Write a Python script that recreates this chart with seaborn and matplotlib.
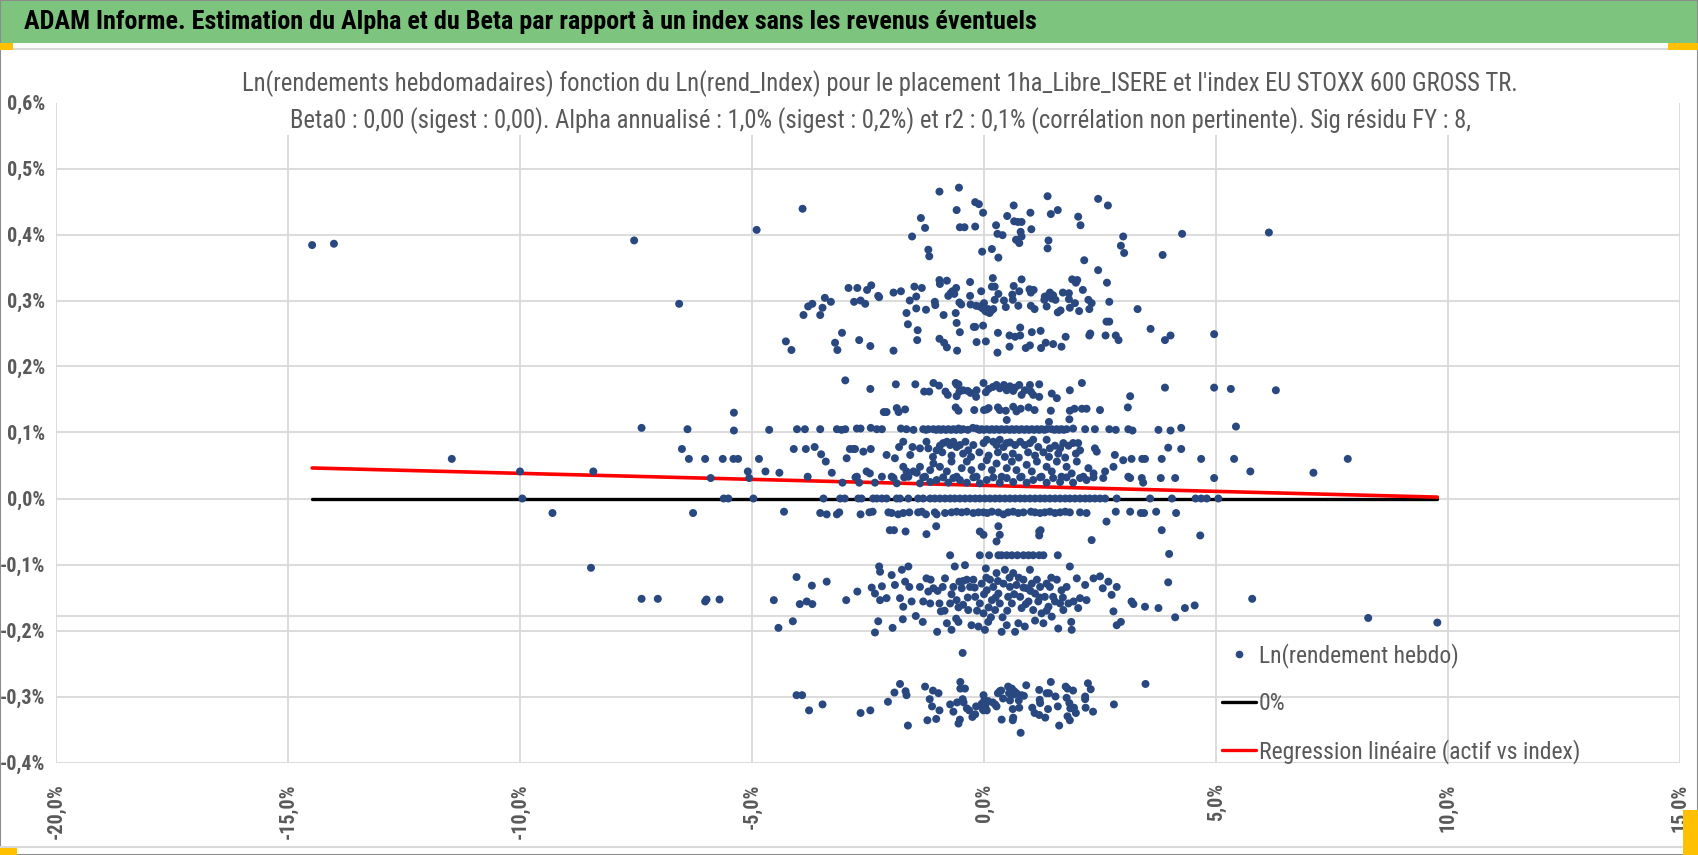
import matplotlib
matplotlib.use("Agg")
import matplotlib.pyplot as plt
import seaborn as sns
import pandas as pd
from matplotlib import font_manager
from matplotlib.lines import Line2D
from matplotlib.patches import Rectangle
from matplotlib.ticker import FuncFormatter, MultipleLocator

# weekly log returns (in %): x = index, y = fund
pts_top = [
    (-14.48, 0.384), (-14.01, 0.386), (-7.54, 0.391), (-4.90, 0.407), (-3.91, 0.439),
    (4.27, 0.401), (6.14, 0.403), (3.85, 0.369), (-1.36, 0.425), (-1.55, 0.397),
    (-1.27, 0.410), (-1.20, 0.377), (-1.18, 0.367), (-0.96, 0.465), (-0.59, 0.437),
    (-0.54, 0.471), (-0.52, 0.411), (-0.42, 0.411), (-0.19, 0.449), (-0.11, 0.446),
    (-0.19, 0.412), (-0.02, 0.433), (-0.04, 0.374), (0.17, 0.378), (0.26, 0.414),
    (0.29, 0.401), (0.40, 0.399), (0.31, 0.365), (0.50, 0.428), (0.64, 0.444),
    (0.65, 0.420), (0.73, 0.419), (0.81, 0.419), (0.69, 0.392), (0.76, 0.387),
    (0.81, 0.397), (0.79, 0.404), (1.00, 0.433), (1.02, 0.408), (1.37, 0.458),
    (1.44, 0.431), (1.39, 0.391), (1.37, 0.379), (1.59, 0.437), (2.03, 0.427),
    (2.08, 0.414), (2.16, 0.361), (2.46, 0.454), (2.67, 0.444), (2.95, 0.383),
    (3.00, 0.397), (3.02, 0.372),
]

pts_upper = [
    (-6.57, 0.295), (3.31, 0.287), (3.59, 0.257), (3.90, 0.240), (4.02, 0.247), (4.96, 0.249),
    (-3.89, 0.278), (-3.79, 0.291), (-3.70, 0.295), (-3.53, 0.278), (-3.48, 0.289),
    (-3.43, 0.304), (-3.30, 0.298), (-3.06, 0.251), (-2.92, 0.319), (-2.73, 0.319),
    (-2.80, 0.298), (-2.66, 0.300), (-2.56, 0.295), (-2.52, 0.316), (-2.43, 0.323),
    (-2.28, 0.307), (-2.26, 0.305), (-1.95, 0.312), (-1.79, 0.314), (-1.67, 0.281),
    (-1.64, 0.264), (-1.60, 0.300), (-1.50, 0.321), (-1.46, 0.306), (-1.46, 0.288),
    (-1.43, 0.255), (-1.34, 0.319), (-1.25, 0.286), (-1.06, 0.298), (-1.05, 0.293),
    (-0.96, 0.331), (-0.95, 0.325), (-0.87, 0.278), (-0.80, 0.330), (-0.77, 0.307),
    (-0.72, 0.311), (-0.68, 0.314), (-0.64, 0.310), (-0.60, 0.319), (-0.61, 0.281),
    (-0.59, 0.266), (-0.52, 0.252), (-0.53, 0.297), (-0.49, 0.294), (-0.30, 0.328),
    (-0.30, 0.307), (-0.29, 0.294), (-0.22, 0.260), (-0.19, 0.260), (-0.17, 0.292),
    (-0.10, 0.291), (-0.06, 0.314), (-0.03, 0.288), (0.00, 0.296), (0.03, 0.284),
    (0.06, 0.283), (0.09, 0.287), (0.12, 0.281), (0.16, 0.285), (0.20, 0.287),
    (0.23, 0.301), (0.17, 0.321), (0.23, 0.321), (0.19, 0.334), (-0.02, 0.262),
    (0.31, 0.310), (0.30, 0.251), (0.43, 0.300), (0.47, 0.290), (0.55, 0.247),
    (0.67, 0.245), (0.61, 0.309), (0.62, 0.301), (0.64, 0.322), (0.74, 0.292),
    (0.76, 0.314), (0.78, 0.259), (0.78, 0.247), (0.81, 0.332), (0.98, 0.317),
    (1.02, 0.316), (1.07, 0.316), (1.01, 0.312), (1.01, 0.292), (1.09, 0.287),
    (1.03, 0.252), (1.22, 0.254), (1.31, 0.306), (1.39, 0.308), (1.42, 0.312),
    (1.49, 0.308), (1.46, 0.303), (1.54, 0.301), (1.30, 0.301), (1.35, 0.291),
    (1.59, 0.282), (1.65, 0.285), (1.70, 0.312), (1.76, 0.245), (1.83, 0.311),
    (1.83, 0.302), (1.85, 0.289), (1.90, 0.332), (1.98, 0.327), (2.01, 0.331),
    (1.96, 0.296), (2.05, 0.284), (2.13, 0.316), (2.25, 0.301), (2.27, 0.287),
    (2.32, 0.296), (2.27, 0.247), (2.29, 0.250), (2.46, 0.346), (2.65, 0.327),
    (2.70, 0.298), (2.64, 0.268), (2.70, 0.268), (2.62, 0.247), (2.84, 0.247),
    (-4.27, 0.238), (-4.15, 0.225), (-3.21, 0.236), (-3.16, 0.225), (-2.69, 0.240),
    (-2.45, 0.231), (-1.95, 0.224), (-1.44, 0.240), (-0.96, 0.242), (-0.86, 0.236),
    (-0.80, 0.229), (-0.58, 0.224), (-0.16, 0.237), (0.04, 0.238), (0.29, 0.221),
    (0.55, 0.230), (0.90, 0.228), (0.99, 0.232), (1.23, 0.228), (1.33, 0.236),
    (1.49, 0.234), (1.67, 0.230), (2.90, 0.240),
]

pts_band15 = [
    (-5.39, 0.130), (3.90, 0.168), (4.96, 0.168), (5.32, 0.166), (6.29, 0.164), (3.15, 0.155),
    (-2.99, 0.179), (-2.45, 0.166), (-1.90, 0.173), (-1.48, 0.173), (-1.29, 0.162),
    (-1.18, 0.162), (-1.09, 0.175), (-0.97, 0.171), (-0.83, 0.162), (-0.78, 0.157),
    (-0.58, 0.172), (-0.61, 0.175), (-0.55, 0.173), (-0.59, 0.155), (-0.53, 0.162),
    (-0.45, 0.164), (-0.35, 0.163), (-0.29, 0.160), (-0.17, 0.154), (-0.16, 0.164),
    (-0.01, 0.175), (0.04, 0.161), (0.10, 0.166), (0.19, 0.169), (0.27, 0.172),
    (0.34, 0.167), (0.43, 0.172), (0.49, 0.164), (0.56, 0.170), (0.63, 0.163),
    (0.67, 0.168), (0.76, 0.172), (0.81, 0.157), (0.88, 0.164), (0.99, 0.172),
    (1.01, 0.162), (1.06, 0.157), (1.19, 0.173), (1.19, 0.154), (1.46, 0.159),
    (1.57, 0.152), (1.85, 0.164), (2.11, 0.175),
    (-2.16, 0.131), (-2.10, 0.131), (-1.88, 0.137), (-1.84, 0.131), (-1.70, 0.135),
    (-0.61, 0.138), (-0.55, 0.133), (-0.21, 0.134), (0.00, 0.134), (0.06, 0.135),
    (0.10, 0.137), (0.30, 0.138), (0.34, 0.134), (0.47, 0.133), (0.63, 0.139),
    (0.70, 0.132), (0.79, 0.136), (0.96, 0.138), (1.09, 0.134), (1.44, 0.133),
    (1.85, 0.133), (1.95, 0.136), (2.11, 0.136), (2.21, 0.136), (2.50, 0.134), (3.10, 0.138),
]

pts_band10 = [
    (-7.38, 0.107), (-6.39, 0.105), (-5.39, 0.103), (3.20, 0.103), (3.76, 0.104),
    (4.02, 0.103), (4.25, 0.107), (5.43, 0.109),
    (-4.63, 0.104), (-4.03, 0.105), (-3.86, 0.105), (-3.53, 0.105), (-3.17, 0.105),
    (-3.07, 0.104), (-2.99, 0.105), (-2.74, 0.106), (-2.66, 0.106), (-2.44, 0.107),
    (-2.31, 0.105), (-2.20, 0.105), (-1.79, 0.106), (-1.67, 0.105), (-1.52, 0.104),
    (-1.31, 0.105), (-1.20, 0.105), (-1.09, 0.105), (-0.98, 0.105), (-0.88, 0.105),
    (-0.77, 0.105), (-0.66, 0.105), (-0.55, 0.106), (-0.45, 0.105), (-0.24, 0.107),
    (-0.16, 0.106), (-0.05, 0.105), (0.06, 0.105), (0.17, 0.105), (0.27, 0.105),
    (0.38, 0.105), (0.49, 0.119), (0.49, 0.105), (0.60, 0.105), (0.70, 0.105),
    (0.81, 0.105), (0.92, 0.105), (1.03, 0.105), (1.14, 0.105), (1.24, 0.105),
    (1.35, 0.105), (1.40, 0.116), (1.46, 0.105), (1.57, 0.105), (1.67, 0.105),
    (1.78, 0.105), (1.84, 0.120), (1.92, 0.106), (2.18, 0.105), (2.39, 0.105),
    (2.70, 0.105), (2.84, 0.104), (3.11, 0.105),
    (-1.25, 0.104), (-1.03, 0.104), (-0.93, 0.104), (-0.82, 0.104), (-0.71, 0.104),
    (-0.60, 0.104), (-0.50, 0.104), (-0.35, 0.104), (-0.10, 0.104), (0.00, 0.104),
    (0.12, 0.104), (0.22, 0.104), (0.33, 0.104), (0.44, 0.104), (0.55, 0.104),
    (0.65, 0.104), (0.76, 0.104), (0.87, 0.104), (0.97, 0.104), (1.08, 0.104),
    (1.19, 0.104), (1.30, 0.104), (1.52, 0.104), (1.62, 0.104), (1.72, 0.104),
]

pts_band07 = [
    (-6.51, 0.075), (-11.47, 0.060), (-6.36, 0.060), (-6.01, 0.060), (-5.63, 0.060),
    (-5.40, 0.060), (-5.30, 0.060), (-4.85, 0.060), (3.97, 0.077), (4.25, 0.075),
    (3.18, 0.060), (3.41, 0.060), (3.47, 0.060), (3.83, 0.060), (4.68, 0.060),
    (5.39, 0.060), (7.84, 0.060),
    (-4.10, 0.075), (-3.84, 0.075), (-3.65, 0.078), (-3.51, 0.067), (-3.41, 0.056),
    (-2.96, 0.061), (-2.89, 0.075), (-2.82, 0.075), (-2.78, 0.075), (-2.60, 0.071),
    (-2.44, 0.075), (-2.10, 0.066), (-1.92, 0.061), (-1.83, 0.078), (-1.74, 0.086),
    (-1.59, 0.066), (-1.54, 0.078), (-1.38, 0.076), (-1.24, 0.086), (-1.20, 0.076),
    (-1.02, 0.073), (-0.95, 0.080), (-0.88, 0.084), (-0.80, 0.086), (-0.73, 0.081),
    (-0.66, 0.086), (-0.59, 0.078), (-0.52, 0.081), (-0.40, 0.086), (-0.34, 0.073),
    (-0.23, 0.081), (-0.01, 0.084), (0.06, 0.089), (0.20, 0.086), (0.27, 0.081),
    (0.34, 0.089), (0.42, 0.078), (0.49, 0.084), (0.56, 0.085), (0.67, 0.081),
    (0.78, 0.086), (0.88, 0.081), (0.99, 0.084), (1.06, 0.089), (1.17, 0.078),
    (1.35, 0.089), (1.42, 0.076), (1.53, 0.080), (1.64, 0.076), (1.71, 0.084),
    (1.82, 0.080), (1.92, 0.084), (2.03, 0.084), (2.07, 0.073), (2.39, 0.076),
    (2.43, 0.071), (2.82, 0.066), (3.00, 0.058),
    (-1.10, 0.063), (-0.90, 0.070), (-0.70, 0.065), (-0.45, 0.068), (-0.28, 0.063),
    (-0.10, 0.070), (0.10, 0.065), (0.30, 0.070), (0.45, 0.063), (0.62, 0.068),
    (0.75, 0.062), (0.95, 0.070), (1.10, 0.065), (1.28, 0.070), (1.40, 0.063),
    (1.60, 0.068), (1.75, 0.062), (1.98, 0.068),
]

pts_band04 = [
    (-10.00, 0.041), (-8.42, 0.041), (-5.09, 0.041), (-5.89, 0.031), (-5.06, 0.031),
    (5.74, 0.041), (7.10, 0.039), (3.15, 0.031), (3.81, 0.031), (4.12, 0.031),
    (4.96, 0.031), (3.43, 0.024), (-4.71, 0.041), (-4.41, 0.039), (-3.80, 0.033),
    (-3.28, 0.039),
    (-2.74, 0.033), (-2.53, 0.041), (-2.46, 0.038), (-2.20, 0.033), (-1.99, 0.033),
    (-1.74, 0.048), (-1.63, 0.033), (-1.52, 0.041), (-1.38, 0.048), (-1.27, 0.033),
    (-1.16, 0.043), (-1.09, 0.053), (-0.95, 0.048), (-0.80, 0.041), (-0.70, 0.056),
    (-0.59, 0.033), (-0.48, 0.046), (-0.37, 0.056), (-0.27, 0.043), (-0.16, 0.033),
    (-0.05, 0.048), (0.06, 0.058), (0.17, 0.043), (0.27, 0.053), (0.38, 0.033),
    (0.49, 0.046), (0.60, 0.056), (0.70, 0.043), (0.81, 0.033), (0.92, 0.051),
    (1.03, 0.041), (1.14, 0.056), (1.24, 0.033), (1.35, 0.048), (1.46, 0.041),
    (1.57, 0.056), (1.67, 0.033), (1.78, 0.048), (1.89, 0.038), (2.00, 0.056),
    (2.14, 0.033), (2.25, 0.046), (2.36, 0.038), (2.61, 0.041), (2.79, 0.048),
    (3.11, 0.033), (3.40, 0.031),
    (-3.05, 0.024), (-2.77, 0.032), (-2.69, 0.024), (-2.35, 0.024), (-1.95, 0.031),
    (-1.88, 0.023), (-1.72, 0.032), (-1.67, 0.041), (-1.45, 0.039), (-1.38, 0.023),
    (-1.31, 0.032), (-1.16, 0.025), (-1.02, 0.028), (-0.88, 0.032), (-0.77, 0.024),
    (-0.66, 0.031), (-0.52, 0.028), (-0.37, 0.024), (-0.23, 0.032), (-0.09, 0.023),
    (0.06, 0.028), (0.20, 0.032), (0.34, 0.024), (0.49, 0.031), (0.63, 0.025),
    (0.78, 0.032), (0.92, 0.024), (1.06, 0.028), (1.21, 0.032), (1.35, 0.024),
    (1.49, 0.031), (1.64, 0.025), (1.78, 0.032), (1.92, 0.024), (2.07, 0.031),
    (2.21, 0.028), (2.36, 0.032), (2.57, 0.031),
]

pts_zero = [
    (-9.95, 0.0), (-5.61, 0.0), (-5.51, 0.0), (-4.97, 0.0), (3.58, 0.0), (4.05, 0.0),
    (4.56, 0.0), (4.68, 0.0), (4.80, 0.0), (5.05, 0.0),
    (-3.46, 0.0), (-3.10, 0.0), (-3.00, 0.0), (-2.71, 0.0), (-2.64, 0.0), (-2.39, 0.0),
    (-2.31, 0.0), (-2.20, 0.0), (-2.10, 0.0), (-1.88, 0.0), (-1.81, 0.0), (-1.63, 0.0),
    (-1.42, 0.0), (-1.31, 0.0), (-1.16, 0.0), (-1.06, 0.0), (-0.95, 0.0), (-0.84, 0.0),
    (-0.73, 0.0), (-0.63, 0.0), (-0.52, 0.0), (-0.41, 0.0), (-0.30, 0.0), (-0.19, 0.0),
    (-0.09, 0.0), (0.02, 0.0), (0.13, 0.0), (0.24, 0.0), (0.34, 0.0), (0.45, 0.0),
    (0.56, 0.0), (0.67, 0.0), (0.78, 0.0), (0.88, 0.0), (0.99, 0.0), (1.10, 0.0),
    (1.21, 0.0), (1.31, 0.0), (1.42, 0.0), (1.53, 0.0), (1.64, 0.0), (1.75, 0.0),
    (1.85, 0.0), (1.96, 0.0), (2.07, 0.0), (2.18, 0.0), (2.28, 0.0), (2.39, 0.0),
    (2.50, 0.0), (2.61, 0.0), (2.86, 0.0),
]

pts_neg02 = [
    (-9.30, -0.022), (-6.27, -0.022), (3.15, -0.020), (3.38, -0.022), (3.45, -0.022),
    (3.71, -0.020), (4.14, -0.022),
    (-4.31, -0.020), (-3.53, -0.022), (-3.39, -0.024), (-3.17, -0.024), (-3.12, -0.021),
    (-2.66, -0.024), (-2.47, -0.021), (-2.40, -0.020), (-2.06, -0.021), (-1.99, -0.022),
    (-1.85, -0.024), (-1.74, -0.022), (-1.61, -0.021), (-1.42, -0.021), (-1.34, -0.020),
    (-1.25, -0.024), (-1.06, -0.021), (-1.02, -0.024), (-0.84, -0.022), (-0.70, -0.021),
    (-0.59, -0.020), (-0.48, -0.021), (-0.37, -0.020), (-0.23, -0.022), (-0.12, -0.021),
    (-0.01, -0.021), (0.07, -0.022), (0.17, -0.020), (0.31, -0.021), (0.42, -0.024),
    (0.52, -0.021), (0.63, -0.020), (0.74, -0.022), (0.85, -0.021), (1.01, -0.020),
    (1.10, -0.021), (1.21, -0.022), (1.31, -0.021), (1.42, -0.020), (1.53, -0.022),
    (1.64, -0.021), (1.75, -0.020), (1.85, -0.021), (2.07, -0.021), (2.21, -0.022),
    (2.84, -0.020),
]

pts_neg05 = [
    (3.83, -0.048), (4.66, -0.056), (3.99, -0.084),
    (-2.03, -0.048), (-1.94, -0.048), (-1.69, -0.050), (-1.24, -0.054), (-1.03, -0.042),
    (-0.09, -0.050), (-0.01, -0.055), (0.31, -0.042), (0.34, -0.055), (0.27, -0.065),
    (1.19, -0.050), (1.22, -0.048), (1.19, -0.056), (2.32, -0.063), (2.64, -0.035),
    (-0.73, -0.086), (-0.09, -0.086), (0.11, -0.086), (0.31, -0.086), (0.38, -0.086),
    (0.49, -0.086), (0.60, -0.086), (0.72, -0.086), (0.85, -0.086), (0.96, -0.086),
    (1.06, -0.086), (1.19, -0.086), (1.28, -0.086), (1.59, -0.086),
]

pts_neg15 = [
    (-8.47, -0.105), (-7.38, -0.152), (-7.03, -0.152), (-6.01, -0.156), (-5.98, -0.153),
    (-5.70, -0.153), (3.97, -0.127), (3.18, -0.156), (3.22, -0.160), (3.47, -0.164),
    (3.76, -0.166), (4.12, -0.180), (4.33, -0.166), (4.54, -0.162), (5.78, -0.152),
    (8.28, -0.181), (9.77, -0.188),
    (-4.53, -0.154), (-4.43, -0.196), (-4.12, -0.186), (-4.04, -0.119), (-3.97, -0.160),
    (-3.82, -0.156), (-3.70, -0.160), (-3.71, -0.132), (-3.39, -0.126), (-2.97, -0.154),
    (-2.73, -0.141), (-2.42, -0.135), (-2.35, -0.144), (-2.28, -0.186), (-2.35, -0.203),
    (-2.26, -0.103), (-2.24, -0.111), (-2.20, -0.133), (-2.10, -0.151), (-2.24, -0.154),
    (-1.99, -0.116), (-1.97, -0.196), (-1.92, -0.131), (-1.81, -0.151), (-1.77, -0.108),
    (-1.74, -0.164), (-1.75, -0.183), (-1.70, -0.126), (-1.63, -0.103), (-1.61, -0.134),
    (-1.56, -0.156), (-1.47, -0.178), (-1.38, -0.134), (-1.32, -0.187), (-1.31, -0.156),
    (-1.24, -0.121), (-1.20, -0.141), (-1.16, -0.159), (-1.15, -0.123), (-1.09, -0.136),
    (-1.01, -0.202), (-0.96, -0.159), (-0.93, -0.171), (-0.89, -0.134), (-0.84, -0.121),
    (-0.80, -0.189), (-0.73, -0.159), (-0.70, -0.199), (-0.66, -0.134), (-0.63, -0.103),
    (-0.60, -0.182), (-0.59, -0.154), (-0.55, -0.187), (-0.53, -0.126), (-0.48, -0.136),
    (-0.45, -0.161), (-0.41, -0.101), (-0.37, -0.123), (-0.34, -0.169), (-0.30, -0.134),
    (-0.27, -0.192), (-0.23, -0.123), (-0.19, -0.149), (-0.12, -0.194), (-0.09, -0.159),
    (-0.05, -0.129), (-0.01, -0.174), (0.02, -0.199), (0.04, -0.106), (0.06, -0.139),
    (0.09, -0.187), (0.13, -0.123), (0.17, -0.154), (0.20, -0.134), (0.24, -0.169),
    (0.27, -0.113), (0.31, -0.144), (0.34, -0.159), (0.38, -0.202), (0.42, -0.129),
    (0.45, -0.108), (0.49, -0.192), (0.52, -0.149), (0.56, -0.134), (0.60, -0.159),
    (0.63, -0.113), (0.67, -0.202), (0.70, -0.131), (0.74, -0.189), (0.78, -0.149),
    (0.81, -0.166), (0.85, -0.123), (0.88, -0.194), (0.92, -0.136), (0.96, -0.156),
    (0.99, -0.108), (1.03, -0.129), (1.06, -0.169), (1.10, -0.144), (1.14, -0.123),
    (1.17, -0.156), (1.21, -0.134), (1.24, -0.174), (1.28, -0.189), (1.31, -0.149),
    (1.35, -0.129), (1.39, -0.164), (1.42, -0.134), (1.46, -0.179), (1.49, -0.149),
    (1.53, -0.156), (1.57, -0.123), (1.60, -0.197), (1.64, -0.159), (1.67, -0.139),
    (1.71, -0.169), (1.78, -0.134), (1.82, -0.159), (1.85, -0.103), (1.88, -0.187),
    (1.89, -0.199), (1.93, -0.156), (2.00, -0.121), (2.03, -0.166), (2.07, -0.151),
    (2.18, -0.131), (2.21, -0.154), (2.36, -0.121), (2.50, -0.118), (2.56, -0.136),
    (2.68, -0.126), (2.75, -0.146), (2.79, -0.171), (2.86, -0.134), (2.86, -0.192),
    (2.95, -0.187),
    (-0.45, -0.125), (-0.20, -0.135), (0.00, -0.145), (0.10, -0.165), (0.30, -0.125),
    (0.50, -0.170), (0.65, -0.145), (0.90, -0.160), (1.00, -0.140), (1.20, -0.150),
    (1.35, -0.170), (0.40, -0.180), (0.15, -0.180), (0.75, -0.120), (1.10, -0.185),
    (-0.15, -0.170), (-0.35, -0.150), (-0.70, -0.145), (-1.00, -0.140), (0.55, -0.120),
    (0.85, -0.135), (1.45, -0.120), (1.70, -0.150), (0.25, -0.150), (-0.55, -0.165),
    (-0.85, -0.170), (0.05, -0.120),
]

pts_neg30 = [
    (-0.46, -0.234), (-4.04, -0.298), (-3.92, -0.298), (-3.77, -0.321), (-3.48, -0.312),
    (-2.66, -0.325), (-2.45, -0.321), (-2.07, -0.308), (-1.93, -0.294), (-1.81, -0.281),
    (-1.69, -0.292), (-1.67, -0.298), (-1.64, -0.344), (-1.27, -0.285), (-1.22, -0.336),
    (-1.17, -0.304), (-1.12, -0.315), (-1.10, -0.291), (-1.03, -0.334), (-0.98, -0.295),
    (-0.96, -0.321), (-0.73, -0.312), (-0.66, -0.323), (-0.58, -0.309), (-0.55, -0.341),
    (-0.52, -0.335), (-0.51, -0.278), (-0.51, -0.288), (-0.46, -0.304), (-0.44, -0.309),
    (-0.41, -0.288), (-0.37, -0.318), (-0.32, -0.321), (-0.25, -0.331), (-0.19, -0.327),
    (-0.17, -0.315), (-0.05, -0.311), (-0.03, -0.319), (-0.01, -0.298), (-0.01, -0.321),
    (0.01, -0.305), (0.03, -0.314), (0.06, -0.321), (0.09, -0.307), (0.19, -0.309),
    (0.24, -0.312), (0.27, -0.315), (0.30, -0.295), (0.34, -0.292), (0.37, -0.291),
    (0.38, -0.335), (0.41, -0.303), (0.52, -0.285), (0.54, -0.295), (0.56, -0.306),
    (0.60, -0.288), (0.62, -0.319), (0.62, -0.336), (0.63, -0.332), (0.64, -0.297),
    (0.65, -0.292), (0.70, -0.295), (0.76, -0.317), (0.75, -0.306), (0.79, -0.355),
    (0.81, -0.298), (0.86, -0.299), (0.91, -0.283), (1.04, -0.317), (1.09, -0.325),
    (1.19, -0.290), (1.20, -0.305), (1.21, -0.310), (1.19, -0.328), (1.32, -0.332),
    (1.35, -0.295), (1.40, -0.295), (1.38, -0.319), (1.44, -0.278), (1.54, -0.300),
    (1.59, -0.315), (1.62, -0.344), (1.76, -0.285), (1.78, -0.302), (1.80, -0.288),
    (1.80, -0.330), (1.84, -0.310), (1.85, -0.336), (1.86, -0.318), (1.92, -0.291),
    (1.94, -0.317), (1.98, -0.325), (2.18, -0.300), (2.18, -0.304), (2.19, -0.317),
    (2.24, -0.280), (2.30, -0.289), (2.35, -0.323), (2.80, -0.312), (3.48, -0.281),
]

# regression (in %): y = alpha + beta * x
alpha_weekly = 0.0199
beta = -0.00182

header = "ADAM Informe. Estimation du Alpha et du Beta par rapport à un index sans les revenus éventuels"
title_lines = [
    "Ln(rendements hebdomadaires) fonction du Ln(rend_Index) pour le placement 1ha_Libre_ISERE et l'index EU STOXX 600 GROSS TR.",
    "Beta0 : 0,00 (sigest : 0,00). Alpha annualisé : 1,0% (sigest : 0,2%) et r2 : 0,1% (corrélation non pertinente). Sig résidu FY : 8,",
]
legend_labels = ["Ln(rendement hebdo)", "0%", "Regression linéaire (actif vs index)"]

all_pts = (pts_top + pts_upper + pts_band15 + pts_band10 + pts_band07 + pts_band04
           + pts_zero + pts_neg02 + pts_neg05 + pts_neg15 + pts_neg30)
df = pd.DataFrame(all_pts, columns=["index", "fund"])

sns.set_theme(style="white")
installed = {f.name for f in font_manager.fontManager.ttflist}
narrow = next((f for f in ["Roboto Condensed", "Liberation Sans Narrow", "Liberation Sans"]
               if f in installed), "DejaVu Sans")
plt.rcParams["font.family"] = [narrow, "DejaVu Sans"]

W, H = 1698, 855
fig = plt.figure(figsize=(W / 100, H / 100), dpi=100)
ax = fig.add_axes([56 / W, 1 - 762.5 / H, 1624 / W, 660 / H])

grid_c = "#D9D9D9"
dot_c = "#2A4880"
text_c = "#595959"

sns.scatterplot(data=df, x="index", y="fund", ax=ax, s=33, color=dot_c,
                edgecolor="none", zorder=3, legend=False)

xmin, xmax = df["index"].min(), df["index"].max()
zero_df = pd.DataFrame({"x": [xmin, xmax], "y": [0.0, 0.0]})
reg_df = pd.DataFrame({"x": [xmin, xmax],
                       "y": [alpha_weekly + beta * xmin, alpha_weekly + beta * xmax]})
sns.lineplot(data=zero_df, x="x", y="y", ax=ax, color="black", lw=2.4, zorder=2)
sns.lineplot(data=reg_df, x="x", y="y", ax=ax, color="#FF0000", lw=2.6, zorder=2.5)

ax.set_xlim(-20, 15)
ax.set_ylim(-0.4, 0.6)
ax.xaxis.set_major_locator(MultipleLocator(5))
ax.yaxis.set_major_locator(MultipleLocator(0.1))
fmt = FuncFormatter(lambda v, _: f"{round(v, 3) + 0.0:.1f}%".replace(".", ","))
ax.xaxis.set_major_formatter(fmt)
ax.yaxis.set_major_formatter(fmt)
ax.grid(True, color=grid_c, lw=1.3)
ax.axhline(-0.178, color=grid_c, lw=1.3, zorder=0.5)
ax.set_axisbelow(True)
for s in ax.spines.values():
    s.set_visible(False)
ax.set_xlabel("")
ax.set_ylabel("")
ax.tick_params(axis="both", length=0, colors=text_c, labelsize=14.5)
ax.tick_params(axis="x", pad=15, labelrotation=90)
ax.tick_params(axis="y", pad=8)
for lab in ax.get_xticklabels() + ax.get_yticklabels():
    lab.set_fontweight("bold")

# header band and chart frame
fig.add_artist(Rectangle((0, 1 - 43 / H), 1, 43 / H, transform=fig.transFigure,
                         facecolor="#7DC47F", edgecolor="none", zorder=1))
fig.text(24 / W, 1 - 22 / H, header, fontsize=18.8, fontweight="bold", color="black",
         ha="left", va="center", zorder=2)
fig.add_artist(Line2D([0, 1], [1 - 49 / H] * 2, color=grid_c, lw=1.5))
fig.add_artist(Line2D([0, 1], [1 - 847 / H] * 2, color=grid_c, lw=1.5))
fig.add_artist(Rectangle((0, 0), 1, 1, transform=fig.transFigure, facecolor="none",
                         edgecolor="#8C8C8C", lw=1.5))
for (hx, hy, hw, hh) in [(0, 43, 13, 7), (1668, 43, 30, 7), (0, 848, 17, 7), (1683, 810, 15, 45)]:
    fig.add_artist(Rectangle((hx / W, 1 - (hy + hh) / H), hw / W, hh / H,
                             transform=fig.transFigure, facecolor="#FFC000",
                             edgecolor="none", zorder=4))

fig.text(880 / W, 1 - 102 / H, "\n".join(title_lines), ha="center", va="center",
         fontsize=17.7, color=text_c, linespacing=1.45, zorder=5,
         bbox=dict(facecolor="white", edgecolor="none", pad=1))

handles = [
    Line2D([], [], marker="o", ls="none", color=dot_c, markersize=4.5),
    Line2D([], [], color="black", lw=2.4),
    Line2D([], [], color="#FF0000", lw=2.4),
]
ax.legend(handles, legend_labels, loc="upper left", bbox_to_anchor=(1222 / W, 1 - 643 / H),
          bbox_transform=fig.transFigure, frameon=False, fontsize=17, labelcolor=text_c,
          handlelength=1.45, handletextpad=0.1, labelspacing=1.02, borderpad=0,
          borderaxespad=0)

fig.savefig("out.png", dpi=100)
